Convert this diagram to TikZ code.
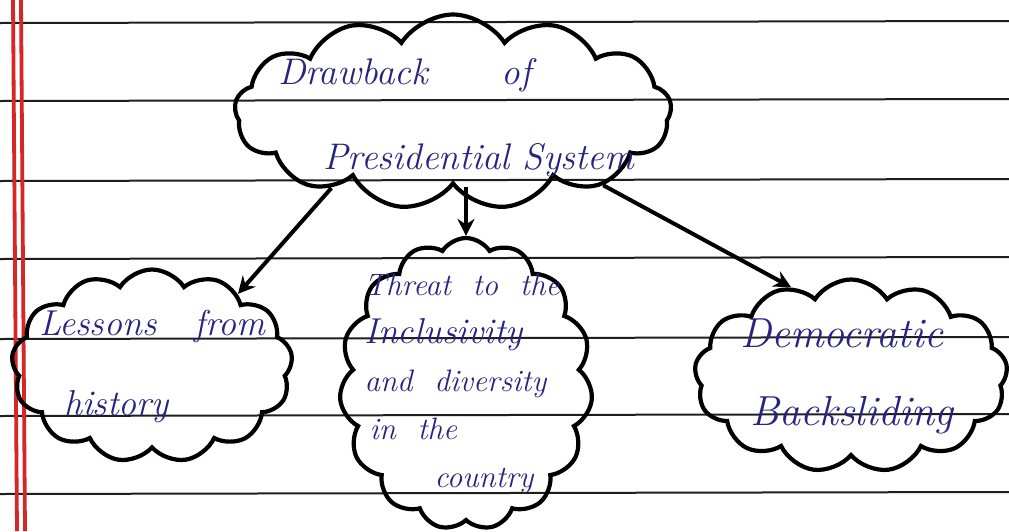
\documentclass[tikz,border=0pt]{standalone}
\usetikzlibrary{shapes.symbols,arrows.meta}
\definecolor{ink}{RGB}{38,36,128}
\definecolor{margin}{RGB}{214,38,38}
\definecolor{rule}{RGB}{30,30,30}
\tikzset{
  bubble/.style={cloud, cloud puffs=13, cloud puff arc=115, cloud ignores aspect,
    draw=black, line width=4.2pt, inner sep=0pt},
  note/.style={align=left, text=ink, inner sep=0pt},
  link/.style={line width=4pt, -{Stealth[length=17pt,width=17pt]}}
}
\begin{document}
\begin{tikzpicture}[x=1pt,y=-1pt]
      \useasboundingbox (0,0) rectangle (1009,531);
      \fill[white] (0,0) rectangle (1009,531);
      
      % ruled paper
      \foreach \ly in {22,100,180,258,338,415,493}
        \draw[rule, line width=2pt] (0,\ly+1) -- (1009,\ly-1);
      \draw[margin, line width=3.8pt] (13,0) -- (17,531);
      \draw[margin, line width=3.8pt] (21,0) -- (25,531);
      
      % clouds
      \node[bubble, minimum width=437, minimum height=195] (title) at (453,112) {};
      \node[bubble, minimum width=281, minimum height=193] (lessons) at (152,366) {};
      \node[bubble, minimum width=253, minimum height=292, cloud puffs=15] (threat) at (466,384) {};
      \node[bubble, minimum width=313, minimum height=193] (backsliding) at (851,376) {};
      
      % texts
      \node[note, font=\itshape\fontsize{37}{85}\selectfont] (titletext) at (456,118)
        {Drawback\qquad of\\\hspace*{45pt}Presidential System};
      \node[note, font=\itshape\fontsize{36}{80}\selectfont] (lessonstext) at (lessons)
        {Lessons\ \ \ from\\\hspace*{25pt}history};
      \node[note, font=\itshape\fontsize{31}{48}\selectfont] (threattext) at (462,384)
        {Threat \ to \ the\\{\fontsize{36}{48}\selectfont Inclusivity}\\and \ diversity\\\hspace*{5pt}in \ the\\\hspace*{70pt}country};
      \node[note, font=\itshape\fontsize{42}{78}\selectfont] (backslidingtext) at (847,376)
        {Democratic\\\hspace*{10pt}Backsliding};
      
      % arrows
      \draw[link] (title.212) -- (lessons.40);
      \draw[link] (threat.north |- title.south) -- (threat.north);
      \draw[link] (title.334) -- (backsliding.124);
\end{tikzpicture}
\end{document}
